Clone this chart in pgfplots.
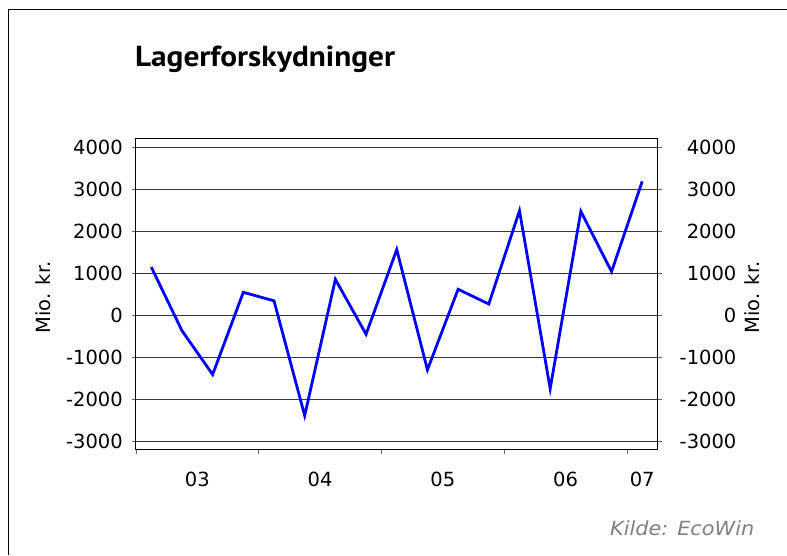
\documentclass[border=0pt]{standalone}
\usepackage{pgfplots}
\pgfplotsset{compat=1.18}
\usepackage{fontspec}
\setmainfont{DejaVu Sans}
\newfontfamily\titlefont{PT Sans}
\definecolor{gridc}{gray}{0.22}
\begin{document}
\begin{tikzpicture}
\path (0pt,0pt) rectangle (787pt,555pt);
\draw[line width=1pt] (8.5pt,0pt) -- (8.5pt,545pt) -- (787pt,545pt);
\node[anchor=base west, inner sep=0pt] at (135pt,488pt) {\scalebox{1.08}[1]{\titlefont\bfseries\fontsize{29}{31}\selectfont Lagerforskydninger}};
\node[rotate=90, inner sep=0pt] at (43pt,257.5pt) {\fontsize{19.5}{20}\selectfont Mio. kr.};
\node[rotate=90, inner sep=0pt] at (753pt,257.5pt) {\fontsize{19.5}{20}\selectfont Mio. kr.};
\node[anchor=base east, inner sep=0pt, text=black!50] at (755pt,19pt) {\scalebox{1.07}[1]{\fontsize{19.5}{21}\selectfont\itshape Kilde: EcoWin}};
\begin{axis}[
  at={(136pt,105pt)}, anchor=south west,
  scale only axis, width=522pt, height=311pt,
  xmin=0, xmax=17, ymin=-3200, ymax=4200,
  axis line style={black, line width=0.9pt},
  xtick={0,4,8,12,16}, xticklabels={},
  extra x ticks={2,6,10,14,16.5},
  extra x tick labels={03,04,05,06,07},
  extra x tick style={major tick length=0pt, grid=none},
  xtick pos=bottom, tick align=outside, major tick length=4pt,
  ytick={-3000,-2000,-1000,0,1000,2000,3000,4000},
  yticklabels={-3000,-2000,-1000,0,1000,2000,3000,4000},
  ytick pos=left,
  ymajorgrids, grid style={gridc, line width=1pt},
  tick style={black!60, line width=0.8pt},
  ticklabel style={font=\fontsize{19.5}{20}\selectfont, inner sep=0pt},
  yticklabel style={xshift=-9pt},
  xticklabel style={yshift=-22pt},
]
\addplot[blue, line width=2.8pt, line join=miter] coordinates {
(0.5,1150) (1.5,-365) (2.5,-1410) (3.5,548) (4.5,345) (5.5,-2388)
(6.5,856) (7.5,-451) (8.5,1565) (9.5,-1297) (10.5,620) (11.5,269)
(12.5,2490) (13.5,-1747) (14.5,2474) (15.5,1040) (16.5,3190)
};
\end{axis}
\begin{axis}[
  at={(136pt,105pt)}, anchor=south west,
  scale only axis, width=522pt, height=311pt,
  xmin=0, xmax=17, ymin=-3200, ymax=4200,
  axis x line=none, axis y line*=right,
  axis line style={black, line width=0.9pt},
  tick align=outside, major tick length=4pt,
  ytick={-3000,-2000,-1000,0,1000,2000,3000,4000},
  yticklabels={-3000,-2000,-1000,0,1000,2000,3000,4000},
  tick style={black!60, line width=0.8pt},
  yticklabel style={font=\fontsize{19.5}{20}\selectfont, inner sep=0pt, anchor=east, xshift=75pt},
]
\end{axis}
\end{tikzpicture}
\end{document}
